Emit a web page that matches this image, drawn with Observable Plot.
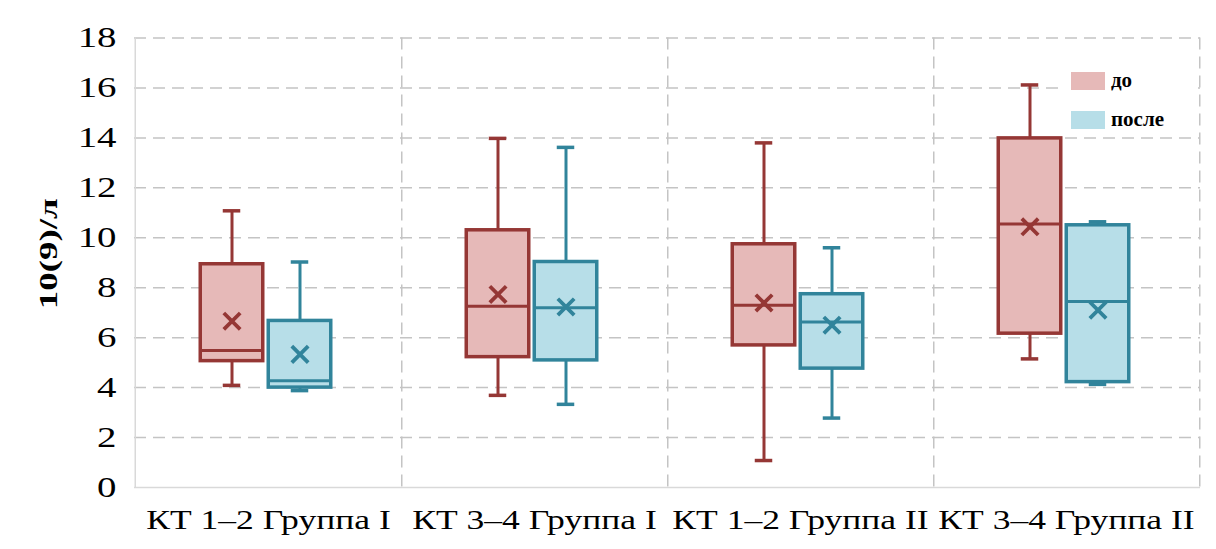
<!DOCTYPE html>
<html>
<head>
<meta charset="utf-8">
<script src="https://cdn.jsdelivr.net/npm/d3@7"></script>
<script src="https://cdn.jsdelivr.net/npm/@observablehq/plot@0.6"></script>
<style>
  html, body { margin: 0; padding: 0; background: #fff; }
  #wrap { position: relative; width: 1216px; height: 549px; }
  #legend { position: absolute; left: 1063px; top: 62px; width: 132px; height: 72px; background: #fff;
    font-family: "Liberation Serif", "Times New Roman", serif; font-weight: bold; font-size: 21px; color: #000; }
  .item { position: absolute; left: 8px; display: flex; align-items: center; }
  .sw { width: 34px; height: 18px; margin-right: 6px; }
</style>
</head>
<body>
<div id="wrap"><div id="chart"></div><div id="legend"></div></div>
<script>
// ---- data ----
const categories = ["КТ 1–2 Группа I", "КТ 3–4 Группа I", "КТ 1–2 Группа II", "КТ 3–4 Группа II"];
const seriesNames = ["до", "после"];
const yTicks = [0, 2, 4, 6, 8, 10, 12, 14, 16, 18];

const doMin    = [4.09, 3.69, 1.08, 5.15];
const doQ1     = [5.06, 5.22, 5.69, 6.16];
const doMedian = [5.49, 7.26, 7.30, 10.55];
const doQ3     = [8.94, 10.30, 9.74, 13.98];
const doMax    = [11.08, 13.98, 13.80, 16.12];
const doMean   = [6.66, 7.73, 7.39, 10.44];

const posleMin    = [3.88, 3.33, 2.78, 4.13];
const posleQ1     = [4.00, 5.09, 4.76, 4.22];
const posleMedian = [4.27, 7.20, 6.63, 7.45];
const posleQ3     = [6.67, 9.03, 7.74, 10.50];
const posleMax    = [9.03, 13.62, 9.60, 10.64];
const posleMean   = [5.33, 7.23, 6.50, 7.10];

const fills   = ["#e6b9b8", "#b7dee8"];
const strokes = ["#953735", "#31849b"];

// ---- build table ----
function rows(si, mn, q1, md, q3, mx, me) {
  return categories.map((c, i) => ({cat: c, s: seriesNames[si], min: mn[i], q1: q1[i], med: md[i], q3: q3[i], max: mx[i], mean: me[i]}));
}
const table = [
  rows(0, doMin, doQ1, doMedian, doQ3, doMax, doMean),
  rows(1, posleMin, posleQ1, posleMedian, posleQ3, posleMax, posleMean)
];

// ---- layout ----
const W = 1216, H = 549, ml = 134, mr = 16, mt = 37.5, mb = 62;
const bw = (W - ml - mr) / categories.length;
const boxW = 63, capW = 18;
const offs = [-36.5, 31.5];
const inset = (off, w) => ({insetLeft: bw / 2 + off - w / 2, insetRight: bw / 2 - off - w / 2});
const serif = "'Liberation Serif', 'Times New Roman', serif";
const gridC = "#c4c4c4";

const marks = [
  Plot.ruleY(yTicks.filter(d => d > 0), {stroke: gridC, strokeWidth: 1.5, strokeDasharray: "12,7"}),
  Plot.ruleX(categories, {x: d => d, dx: bw / 2, stroke: gridC, strokeWidth: 1.5, strokeDasharray: "12,7"}),
  Plot.ruleY([0], {stroke: "#d9d9d9", strokeWidth: 1.5}),
  Plot.ruleX([categories[0]], {x: d => d, dx: -bw / 2, stroke: "#d9d9d9", strokeWidth: 1.5}),
];

table.forEach((data, si) => {
  const off = offs[si];
  marks.push(
    Plot.ruleX(data, {x: "cat", y1: "min", y2: "q1", dx: off, stroke: strokes[si], strokeWidth: 3}),
    Plot.ruleX(data, {x: "cat", y1: "q3", y2: "max", dx: off, stroke: strokes[si], strokeWidth: 3}),
    Plot.tickY(data, {x: "cat", y: "min", stroke: strokes[si], strokeWidth: 3.5, ...inset(off, capW)}),
    Plot.tickY(data, {x: "cat", y: "max", stroke: strokes[si], strokeWidth: 3.5, ...inset(off, capW)}),
    Plot.barY(data, {x: "cat", y1: "q1", y2: "q3", fill: fills[si], stroke: strokes[si], strokeWidth: 3.5, ...inset(off, boxW)}),
    Plot.tickY(data, {x: "cat", y: "med", stroke: strokes[si], strokeWidth: 3, ...inset(off, boxW)}),
    Plot.dot(data, {x: "cat", y: "mean", dx: off, symbol: "times", r: 7.5, stroke: strokes[si], strokeWidth: 3.8})
  );
});

marks.push(
  Plot.axisY({ticks: yTicks, tickSize: 0, tickPadding: 18, fontSize: 29, fill: "#000",
    label: "10(9)/л", labelAnchor: "center", labelArrow: "none", labelOffset: 96}),
  Plot.axisX({tickSize: 0, tickPadding: 22, fontSize: 28, fill: "#000", label: null})
);

const chart = Plot.plot({
  width: W, height: H,
  marginLeft: ml, marginRight: mr, marginTop: mt, marginBottom: mb,
  x: {domain: categories, padding: 0},
  y: {domain: [0, 18]},
  style: {fontFamily: serif, color: "#000", background: "#fff"},
  marks
});
// the reference's serif text is horizontally stretched
const stretch = (sel, k, shift = 0) => chart.querySelectorAll(sel).forEach(t => {
  t.setAttribute("transform", ((t.getAttribute("transform") || "") + ` translate(${shift},0) scale(${k},1)`).trim());
});
stretch("g[aria-label='y-axis tick label'] text", 1.34);
stretch("g[aria-label='x-axis tick label'] text", 1.27);
chart.querySelectorAll("g[aria-label='y-axis label'] text").forEach(t => {
  t.setAttribute("font-weight", "bold");
  t.setAttribute("font-size", "26");
});
stretch("g[aria-label='y-axis label'] text", 1.42, 9);
document.getElementById("chart").appendChild(chart);

// ---- legend ----
const legend = document.getElementById("legend");
seriesNames.forEach((name, i) => {
  const it = document.createElement("div");
  it.className = "item";
  it.style.top = (6 + i * 39) + "px";
  const sw = document.createElement("div");
  sw.className = "sw";
  sw.style.background = fills[i];
  const tx = document.createElement("span");
  tx.textContent = name;
  it.appendChild(sw); it.appendChild(tx);
  legend.appendChild(it);
});
</script>
</body>
</html>
